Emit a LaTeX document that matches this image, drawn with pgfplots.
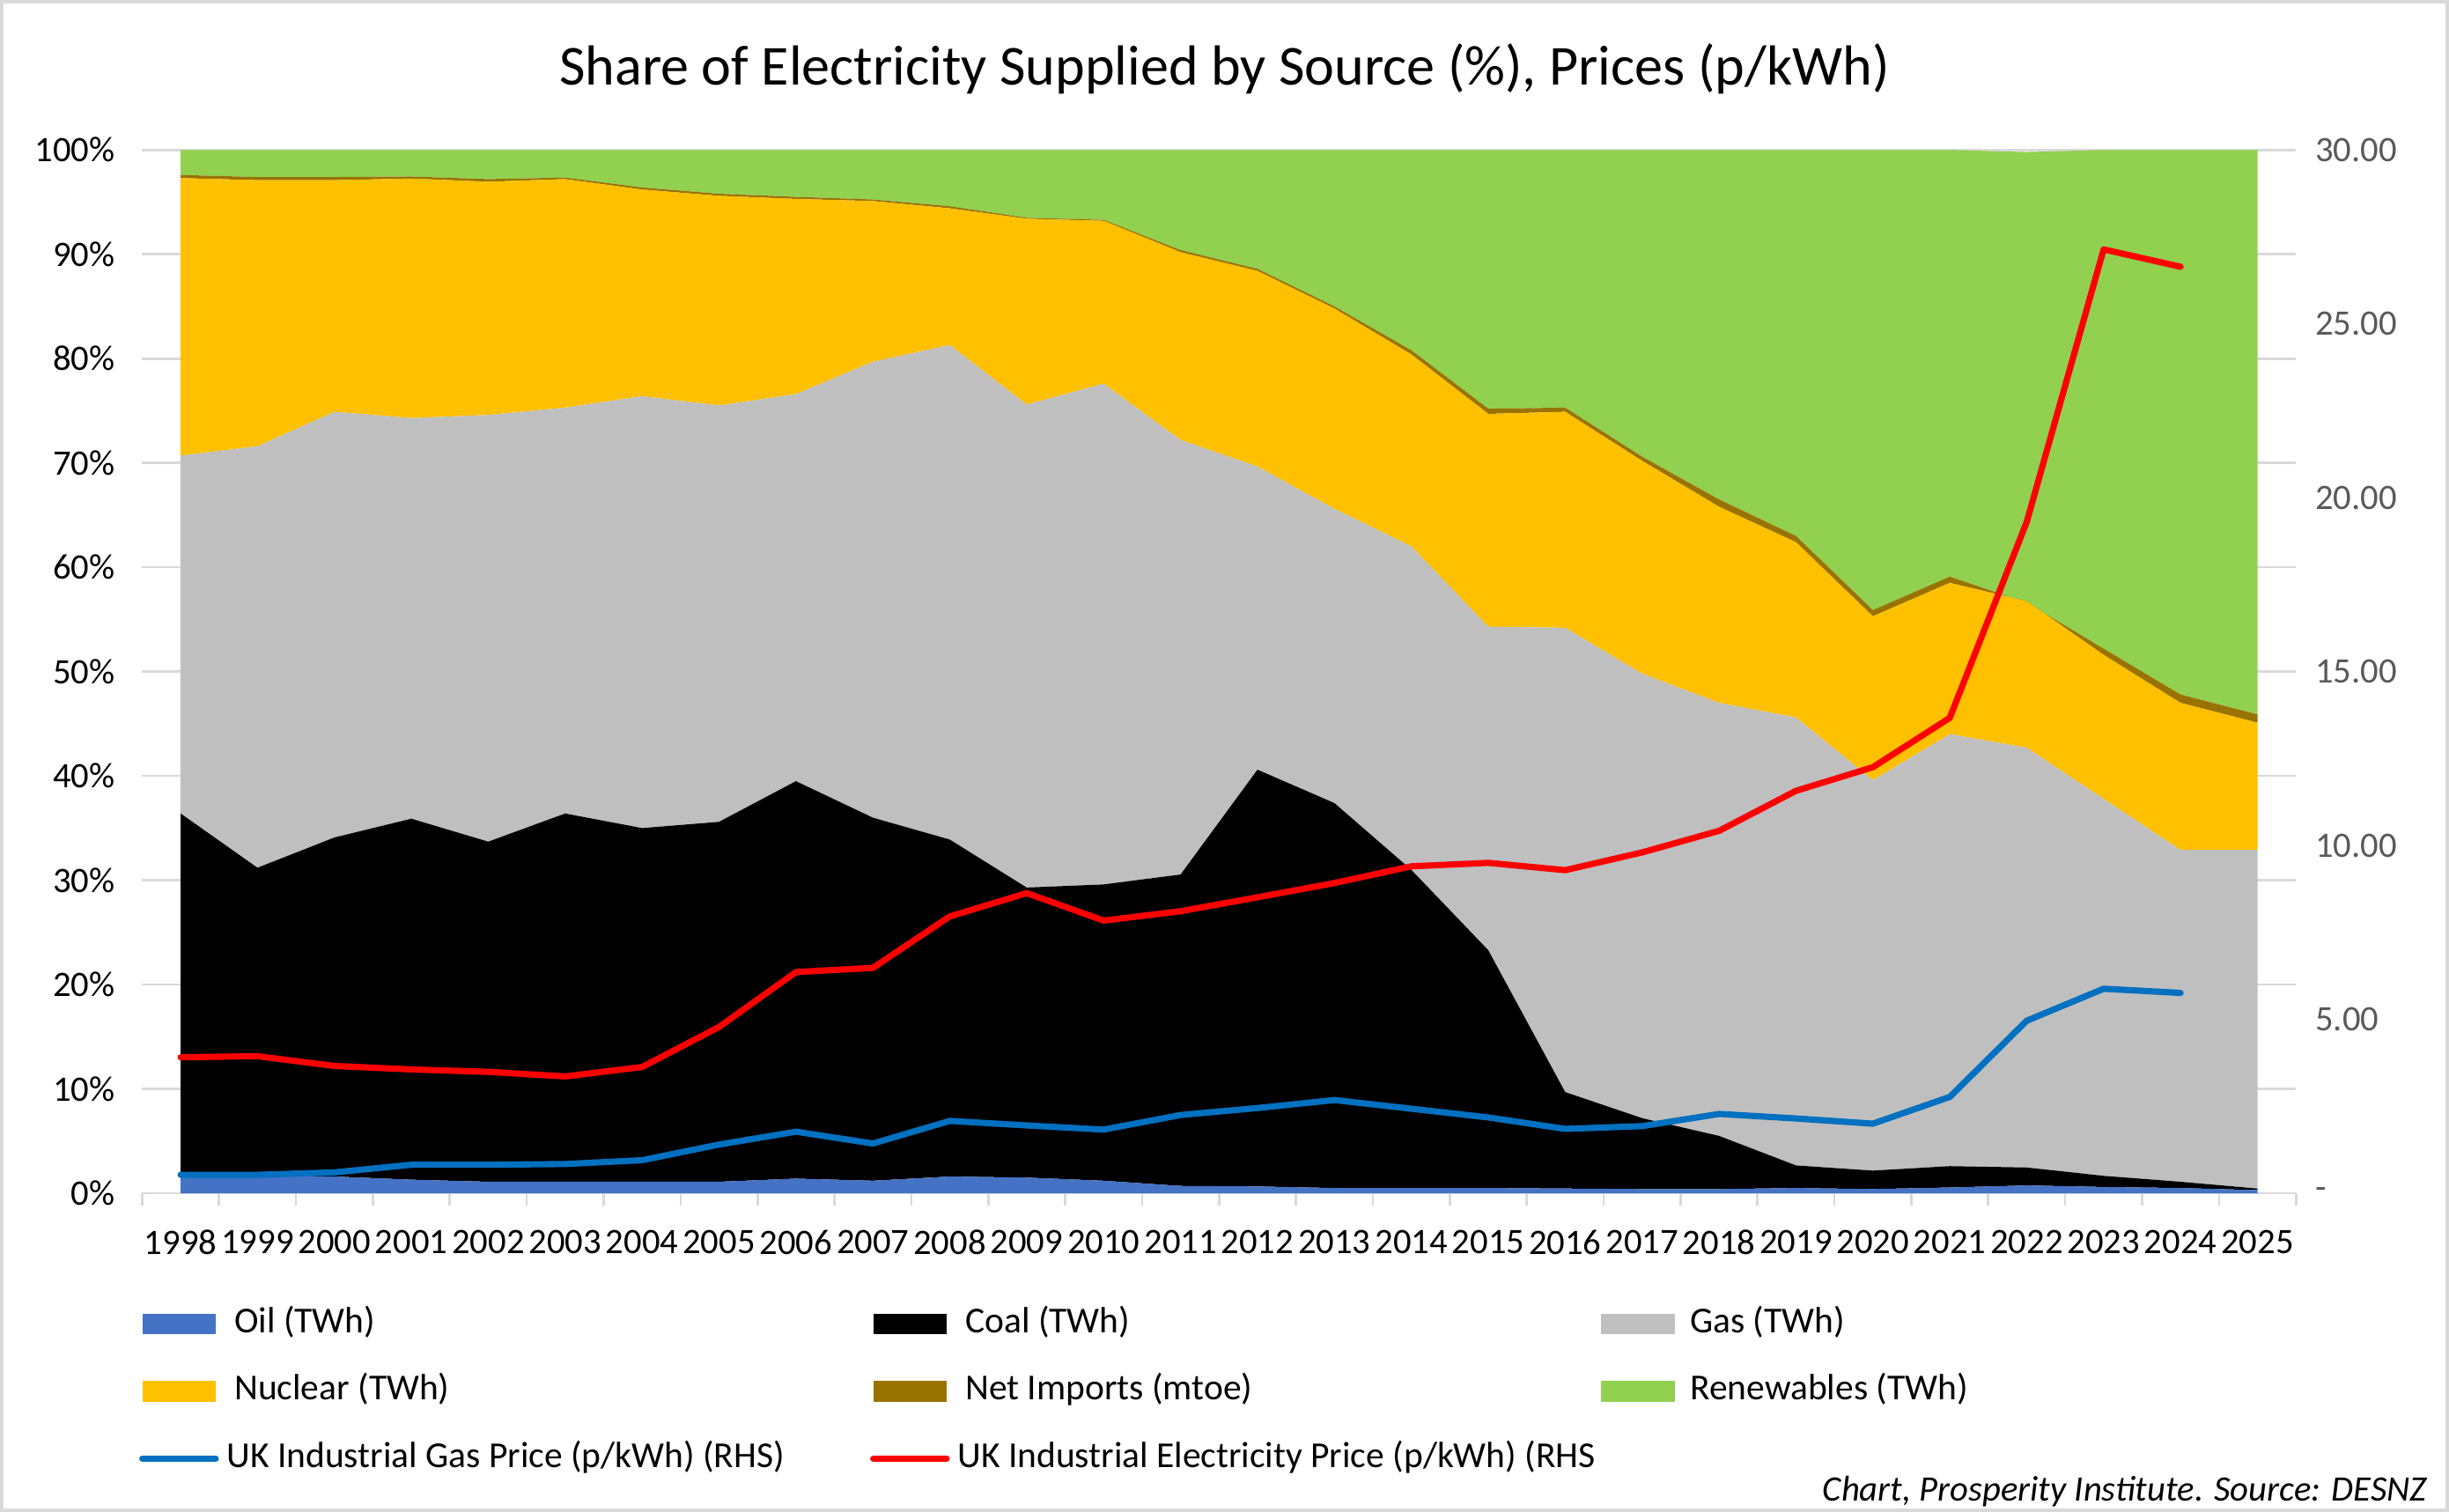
\documentclass[border=0pt]{standalone}
\usepackage{pgfplots}
\pgfplotsset{compat=1.18}
\usepackage{pgfplotstable}
\usepackage{fontspec}
\setmainfont{Carlito}
\definecolor{cOil}{HTML}{4472C4}
\definecolor{cCoal}{HTML}{000000}
\definecolor{cGas}{HTML}{BFBFBF}
\definecolor{cNuc}{HTML}{FFC000}
\definecolor{cImp}{HTML}{997300}
\definecolor{cRen}{HTML}{92D050}
\definecolor{cGasP}{HTML}{0070C0}
\definecolor{cElec}{HTML}{FF0000}
\definecolor{gridgrey}{HTML}{D9D9D9}
\definecolor{labelgrey}{HTML}{595959}
\pgfplotstableread{
x oil coal gas nuc imp ren gasp elec
0 1.7 34.7 34.3 26.6 0.3 2.4 0.53 3.91
1 1.7 29.5 40.4 25.5 0.3 2.6 0.53 3.94
2 1.6 32.5 40.8 22.2 0.3 2.6 0.60 3.66
3 1.3 34.6 38.4 22.95 0.2 2.55 0.82 3.56
4 1.1 32.6 40.9 22.35 0.25 2.8 0.82 3.49
5 1.1 35.3 38.9 21.9 0.15 2.65 0.84 3.36
6 1.1 33.9 41.4 19.8 0.2 3.6 0.95 3.63
7 1.1 34.5 39.9 20.1 0.2 4.2 1.40 4.78
8 1.4 38.1 37.1 18.7 0.2 4.5 1.77 6.36
9 1.2 34.8 43.7 15.4 0.15 4.75 1.43 6.48
10 1.6 32.3 47.4 13.1 0.2 5.4 2.08 7.96
11 1.5 27.8 46.3 17.8 0.1 6.5 1.95 8.63
12 1.2 28.4 48.0 15.6 0.1 6.7 1.83 7.84
13 0.7 29.85 41.65 18.0 0.2 9.6 2.25 8.11
14 0.65 39.95 29.05 18.75 0.2 11.4 2.45 8.51
15 0.5 36.9 28.2 19.2 0.2 15.0 2.68 8.92
16 0.5 30.5 31.0 18.4 0.4 19.2 2.43 9.40
17 0.5 22.8 31.0 20.4 0.5 24.8 2.18 9.50
18 0.45 9.25 44.5 20.7 0.4 24.7 1.85 9.29
19 0.4 6.8 42.6 20.4 0.4 29.4 1.93 9.80
20 0.4 5.1 41.5 18.8 0.7 33.5 2.28 10.42
21 0.5 2.17 42.93 16.8 0.6 37.0 2.15 11.57
22 0.4 1.77 37.43 15.7 0.6 44.1 2.00 12.25
23 0.55 2.05 41.4 14.5 0.6 40.9 2.77 13.67
24 0.75 1.72 40.23 14.05 -0.15 43.2 4.96 19.30
25 0.6 1.07 36.13 13.8 0.6 47.8 5.88 27.14
26 0.5 0.6 31.8 14.1 0.8 52.2 5.76 26.64
27 0.3 0.15 32.45 12.2 0.8 54.1 nan nan
}\data
\newcommand{\LE}[2]{\makebox[417bp][l]{\hspace{#1}#2}}
\pgfplotsset{
  arealeg/.style={legend image code/.code={\fill[##1] (0bp,-6.5bp) rectangle (47bp,6.5bp);}},
  lineleg/.style={legend image code/.code={\draw[##1] (0bp,0bp) -- (47bp,0bp);}},
}
\begin{document}
\begin{tikzpicture}
\begin{axis}[
  at={(91bp,204bp)}, anchor=south west,
  scale only axis, width=1379bp, height=668bp,
  xmin=-0.5, xmax=27.5, ymin=0, ymax=100,
  stack plots=y,
  axis x line*=bottom, axis y line*=left,
  x axis line style={draw=gridgrey, line width=1.5bp},
  y axis line style={draw=none},
  xtick={0,...,27},
  xticklabels={1998,1999,2000,2001,2002,2003,2004,2005,2006,2007,2008,2009,2010,2011,2012,2013,2014,2015,2016,2017,2018,2019,2020,2021,2022,2023,2024,2025},
  minor xtick={-0.5,0.5,...,27.5},
  major tick length=0bp, minor tick length=8bp, tick align=outside,
  major x tick style={draw=none}, ytick style={draw=none},
  minor x tick style={draw=gridgrey, line width=1.5bp},
  ytick={0,10,...,100},
  yticklabels={0\%,10\%,20\%,30\%,40\%,50\%,60\%,70\%,80\%,90\%,100\%},
  ymajorgrids, major grid style={draw=gridgrey, line width=1.5bp},
  tick label style={font=\fontsize{23}{27}\selectfont},
  /pgf/number format/assume math mode=true,
  yticklabel style={xshift=-14bp},
  xticklabel style={yshift=-20bp},
  legend columns=3,
  legend cell align=left,
  legend style={draw=none, fill=none, inner sep=0bp, at={(-0.0015,-0.1095)}, anchor=north west,
    font=\fontsize{23.5}{27}\selectfont, row sep=22bp, column sep=0bp,
    nodes={inner sep=0bp, text height=16bp, text depth=5bp}},
]
\addplot[fill=cOil, draw=none, arealeg] table[x=x,y=oil]{\data} \closedcycle;
\addlegendentry{\LE{10bp}{Oil (TWh)}}
\addplot[fill=cCoal, draw=none, arealeg] table[x=x,y=coal]{\data} \closedcycle;
\addlegendentry{\LE{10bp}{Coal (TWh)}}
\addplot[fill=cGas, draw=none, arealeg] table[x=x,y=gas]{\data} \closedcycle;
\addlegendentry{\LE{10bp}{Gas (TWh)}}
\addplot[fill=cNuc, draw=none, arealeg] table[x=x,y=nuc]{\data} \closedcycle;
\addlegendentry{\LE{10bp}{Nuclear (TWh)}}
\addplot[fill=cImp, draw=none, arealeg] table[x=x,y=imp]{\data} \closedcycle;
\addlegendentry{\LE{10bp}{Net Imports (mtoe)}}
\addplot[fill=cRen, draw=none, arealeg] table[x=x,y=ren]{\data} \closedcycle;
\addlegendentry{\LE{10bp}{Renewables (TWh)}}
\addlegendimage{lineleg, color=cGasP, line width=4bp, line cap=round}
\addlegendentry{\LE{5bp}{UK Industrial Gas Price (p/kWh) (RHS)}}
\addlegendimage{lineleg, color=cElec, line width=4bp, line cap=round}
\addlegendentry{\LE{5bp}{UK Industrial Electricity Price (p/kWh) (RHS}}
\end{axis}
\begin{axis}[
  at={(91bp,204bp)}, anchor=south west,
  scale only axis, width=1379bp, height=668bp,
  xmin=-0.5, xmax=27.5, ymin=0, ymax=30,
  axis x line=none,
  axis y line*=right, y axis line style={draw=none}, ytick style={draw=none},
  major tick length=0bp,
  ytick={0,5,...,30},
  yticklabels={-,5.00,10.00,15.00,20.00,25.00,30.00},
  yticklabel style={anchor=west, xshift=9bp, text=labelgrey, font=\fontsize{23}{27}\selectfont},
]
\addplot[color=cGasP, line width=4bp, line cap=round, line join=round] table[x=x,y=gasp]{\data};
\addplot[color=cElec, line width=4bp, line cap=round, line join=round] table[x=x,y=elec]{\data};
\end{axis}
\node[font=\fontsize{36.3}{42}\selectfont] at (784bp,924bp) {Share of Electricity Supplied by Source (\%), Prices (p/kWh)};
\node[anchor=base east, font=\itshape\fontsize{23}{27}\selectfont, inner sep=0bp] at (1554bp,7bp) {Chart, Prosperity Institute. Source: DESNZ};
\draw[gridgrey, line width=2bp] (1bp,1bp) rectangle (1567bp,967bp);
\pgfresetboundingbox
\useasboundingbox (0,0) rectangle (1568bp,968bp);
\end{tikzpicture}
\end{document}
